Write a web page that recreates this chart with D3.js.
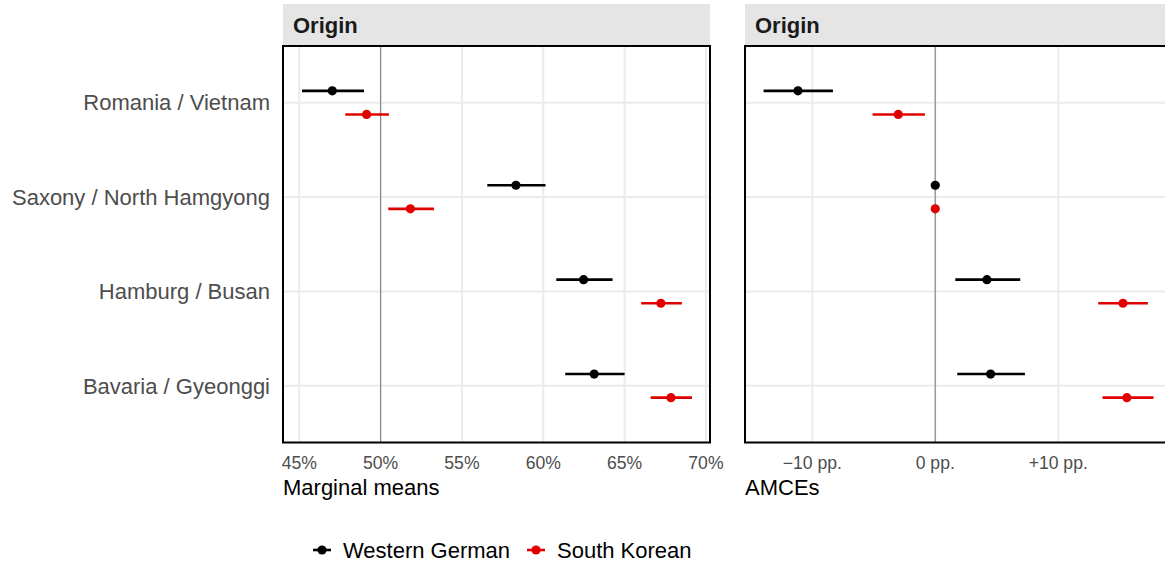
<!DOCTYPE html>
<html>
<head>
<meta charset="utf-8">
<script src="https://cdn.jsdelivr.net/npm/d3@7"></script>
<style>
  html, body { margin: 0; padding: 0; background: #ffffff; }
  svg { display: block; font-family: "Liberation Sans", Arial, sans-serif; }
</style>
</head>
<body>
<svg id="chart" width="1165" height="562"></svg>
<script>
// Attribute levels (top to bottom)
const levels = ["Romania / Vietnam", "Saxony / North Hamgyong", "Hamburg / Busan", "Bavaria / Gyeonggi"];
const groups = ["Western German", "South Korean"];
const groupColors = ["#000000", "#e00000"];

// Marginal means (%): estimate, lower, upper
const mmWestern = [47.03, 58.32, 62.48, 63.13];
const mmWesternLo = [45.17, 56.56, 60.80, 61.35];
const mmWesternHi = [48.98, 60.14, 64.26, 65.00];
const mmKorean = [49.14, 51.83, 67.23, 67.85];
const mmKoreanLo = [47.83, 50.47, 66.02, 66.60];
const mmKoreanHi = [50.51, 53.28, 68.52, 69.14];

// AMCEs (percentage points), Saxony / North Hamgyong is the reference level
const amceWestern = [-11.16, 0, 4.20, 4.50];
const amceWesternLo = [-13.96, 0, 1.63, 1.79];
const amceWesternHi = [-8.32, 0, 6.91, 7.29];
const amceKorean = [-3.01, 0, 15.26, 15.58];
const amceKoreanLo = [-5.10, 0, 13.25, 13.60];
const amceKoreanHi = [-0.84, 0, 17.29, 17.75];

const mmTicks = [45, 50, 55, 60, 65, 70];
const amceTicks = [-10, 0, 10];

const svg = d3.select("#chart");

const panelTop = 46, panelBottom = 442.5;
const stripTop = 4;
const panelW = 427;
const baseSize = 22, tickSize = 17.6;

function rows(est, lo, hi, gi) {
  return est.map((v, i) => ({ level: levels[i], est: v, lo: lo[i], hi: hi[i], g: gi }));
}

function drawPanel(opts) {
  const { x0, domain, ticks, tickFmt, refValue, data, title } = opts;
  const x = d3.scaleLinear().domain(domain).range([x0, x0 + panelW]);
  const y = d3.scalePoint().domain(levels).range([panelTop, panelBottom]).padding(0.6);
  const dodge = 11.8;

  const g = svg.append("g");

  // strip
  g.append("rect").attr("x", x0).attr("y", stripTop).attr("width", panelW)
    .attr("height", panelTop - stripTop).attr("fill", "#e5e5e5");
  g.append("text").attr("x", x0 + 10).attr("y", 25).attr("dy", "0.35em")
    .attr("font-size", baseSize).attr("font-weight", "bold").attr("fill", "#1a1a1a").text("Origin");

  // grid
  g.selectAll("line.vgrid").data(ticks).join("line").attr("class", "vgrid")
    .attr("x1", d => x(d)).attr("x2", d => x(d))
    .attr("y1", panelTop).attr("y2", panelBottom)
    .attr("stroke", "#ebebeb").attr("stroke-width", 2);
  g.selectAll("line.hgrid").data(levels).join("line").attr("class", "hgrid")
    .attr("x1", x0).attr("x2", x0 + panelW)
    .attr("y1", d => y(d)).attr("y2", d => y(d))
    .attr("stroke", "#ebebeb").attr("stroke-width", 2);

  // reference line
  g.append("line").attr("x1", x(refValue)).attr("x2", x(refValue))
    .attr("y1", panelTop).attr("y2", panelBottom)
    .attr("stroke", "#8c8c8c").attr("stroke-width", 1.2);

  // error bars and points
  const pts = g.append("g");
  pts.selectAll("line.err").data(data.filter(d => d.hi > d.lo)).join("line").attr("class", "err")
    .attr("x1", d => x(d.lo)).attr("x2", d => x(d.hi))
    .attr("y1", d => y(d.level) + (d.g === 0 ? -dodge : dodge))
    .attr("y2", d => y(d.level) + (d.g === 0 ? -dodge : dodge))
    .attr("stroke", d => groupColors[d.g]).attr("stroke-width", 2.6);
  pts.selectAll("circle").data(data).join("circle")
    .attr("cx", d => x(d.est))
    .attr("cy", d => y(d.level) + (d.g === 0 ? -dodge : dodge))
    .attr("r", 4.6).attr("fill", d => groupColors[d.g]);

  // panel border
  g.append("rect").attr("x", x0).attr("y", panelTop).attr("width", panelW)
    .attr("height", panelBottom - panelTop).attr("fill", "none")
    .attr("stroke", "#000000").attr("stroke-width", 2);

  // x tick labels
  g.selectAll("text.tick").data(ticks).join("text").attr("class", "tick")
    .attr("x", d => x(d)).attr("y", 463).attr("dy", "0.35em")
    .attr("text-anchor", "middle").attr("font-size", tickSize).attr("fill", "#4d4d4d")
    .text(tickFmt);

  // axis title
  g.append("text").attr("x", x0).attr("y", 487).attr("dy", "0.35em")
    .attr("font-size", baseSize).attr("fill", "#000000").text(title);

  return y;
}

const y = drawPanel({
  x0: 283, domain: [44.0, 70.25], ticks: mmTicks,
  tickFmt: d => d + "%", refValue: 50,
  data: rows(mmWestern, mmWesternLo, mmWesternHi, 0).concat(rows(mmKorean, mmKoreanLo, mmKoreanHi, 1)),
  title: "Marginal means"
});

drawPanel({
  x0: 745, domain: [-15.47, 19.25], ticks: amceTicks,
  tickFmt: d => d === 0 ? "0 pp." : (d > 0 ? "+" + d + " pp." : "\u2212" + Math.abs(d) + " pp."),
  refValue: 0,
  data: rows(amceWestern, amceWesternLo, amceWesternHi, 0).concat(rows(amceKorean, amceKoreanLo, amceKoreanHi, 1)),
  title: "AMCEs"
});

// y-axis labels
svg.append("g").selectAll("text").data(levels).join("text")
  .attr("x", 270).attr("y", d => y(d)).attr("dy", "0.35em")
  .attr("text-anchor", "end").attr("font-size", baseSize).attr("fill", "#4d4d4d")
  .text(d => d);

// legend
const legendItems = [{ label: groups[0], x: 322 }, { label: groups[1], x: 536 }];
const leg = svg.append("g");
legendItems.forEach((item, i) => {
  leg.append("line").attr("x1", item.x - 9).attr("x2", item.x + 9)
    .attr("y1", 550).attr("y2", 550).attr("stroke", groupColors[i]).attr("stroke-width", 2.6);
  leg.append("circle").attr("cx", item.x).attr("cy", 550).attr("r", 4.6).attr("fill", groupColors[i]);
  leg.append("text").attr("x", item.x + 21).attr("y", 550).attr("dy", "0.35em")
    .attr("font-size", baseSize).attr("fill", "#000000").text(item.label);
});
</script>
</body>
</html>
